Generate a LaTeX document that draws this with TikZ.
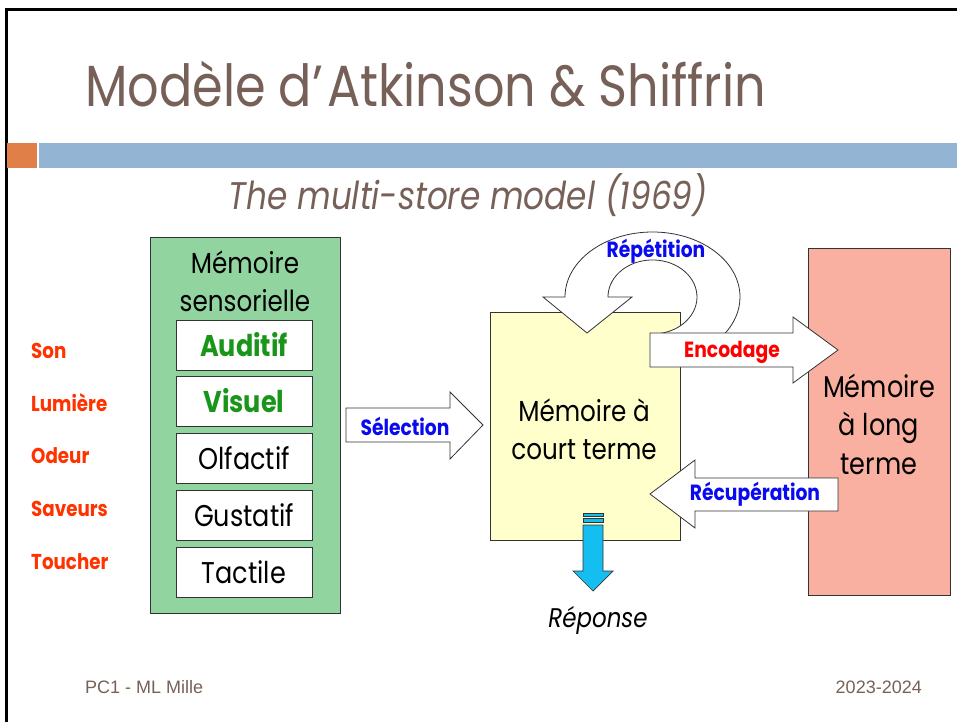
\documentclass[tikz,border=0pt]{standalone}
\usepackage{fontspec}
\setmainfont{Poppins}[FakeStretch=0.85]
\newfontfamily\arialf{Liberation Sans}
\definecolor{tbrown}{RGB}{118,96,88}
\definecolor{sqorange}{RGB}{224,128,72}
\definecolor{barblue}{RGB}{148,180,211}
\definecolor{sgreen}{RGB}{146,212,160}
\definecolor{tgreen}{RGB}{25,150,25}
\definecolor{lred}{RGB}{255,51,0}
\definecolor{tblue}{RGB}{10,10,240}
\definecolor{tred}{RGB}{255,0,0}
\definecolor{stmyellow}{RGB}{255,255,204}
\definecolor{ltmsalmon}{RGB}{250,176,160}
\definecolor{rcyan}{RGB}{20,190,240}
\begin{document}
\begin{tikzpicture}[x=1pt,y=-1pt,
  boxline/.style={draw=black!80,line width=0.9},
  sensbox/.style={boxline,fill=white,minimum width=136,minimum height=50,inner sep=0,
    font=\fontsize{30}{32}\selectfont},
  sensbold/.style={sensbox,font=\fontsize{30}{32}\selectfont\bfseries,text=tgreen},
  inlabel/.style={anchor=west,text=lred,font=\fontsize{21.5}{24}\selectfont\bfseries,inner sep=0},
  blockarrow/.style={draw=black!80,line width=0.8,fill=white},
  arrlabel/.style={font=\fontsize{22}{24}\selectfont\bfseries,inner sep=0},
  memtext/.style={align=center,font=\fontsize{29}{38}\selectfont,inner sep=0},
  foot/.style={text=tbrown,font=\arialf\fontsize{18}{20}\selectfont,inner sep=0}
]
\useasboundingbox (0,0) rectangle (957,722);
% slide frame
\draw[line width=3] (6,722) -- (6,10) -- (957,10);
\fill[sqorange] (7,143) rectangle (37,168);
\fill[barblue] (39,143) rectangle (957,168);
% titles
\node[anchor=base west,text=tbrown,inner sep=0,font=\fontsize{58}{64}\selectfont] (title) at (85,107) {Modèle d’\kern4pt Atkinson \& Shiffrin};
\node[anchor=base,text=tbrown,inner sep=0,font=\fontsize{38.5}{42}\selectfont\itshape] (subtitle) at (468,209) {The multi-store model (1969)};
% sensory memory
\node[boxline,fill=sgreen,minimum width=190,minimum height=376,anchor=north west,inner sep=0] (sens) at (150,237) {};
\node[memtext] (senstitle) at (245,281) {Mémoire\\sensorielle};
\node[sensbold] (aud) at (244,345) {Auditif};
\node[sensbold] (vis) at (244,401) {Visuel};
\node[sensbox] (olf) at (244,458) {Olfactif};
\node[sensbox] (gus) at (244,515) {Gustatif};
\node[sensbox] (tac) at (244,572) {Tactile};
% inputs
\node[inlabel] (son) at (31,351) {Son};
\node[inlabel] (lum) at (31,403) {Lumière};
\node[inlabel] (ode) at (31,456) {Odeur};
\node[inlabel] (sav) at (31,509) {Saveurs};
\node[inlabel] (tou) at (31,562) {Toucher};
% short term memory
\node[boxline,fill=stmyellow,minimum width=190,minimum height=228,anchor=north west,inner sep=0] (stm) at (490,312) {};
\node[memtext] (stmtext) at (584,429) {Mémoire à\\court terme};
% long term memory
\node[boxline,fill=ltmsalmon,minimum width=142,minimum height=347,anchor=north west,inner sep=0] (ltm) at (808,248) {};
\node[memtext,font=\fontsize{30}{38.5}\selectfont] (ltmtext) at (879,424) {Mémoire\\à long\\terme};
% repetition circular arrow
\draw[blockarrow] (543,297) -- (565,297)
  arc[start angle=180,end angle=395,x radius=87.5,y radius=65]
  -- (660.2,333.4)
  arc[start angle=440,end angle=180,x radius=44.5,y radius=37]
  -- (632,297) -- (587,333) -- cycle;
\node[arrlabel,text=tblue] (rep) at (656,251) {Répétition};
% selection
\draw[blockarrow] (346,408) -- (450,408) -- (450,392) -- (483,425) -- (450,459) -- (450,442) -- (346,442) -- cycle;
\node[arrlabel,text=tblue] (sel) at (405,426) {Sélection};
% encodage
\draw[blockarrow] (650,333) -- (793,333) -- (793,317) -- (838,350) -- (793,383) -- (793,367) -- (650,367) -- cycle;
\node[arrlabel,text=tred] (enc) at (732,352) {Encodage};
% recuperation
\draw[blockarrow] (838,478) -- (695,478) -- (695,460) -- (650,494) -- (695,528) -- (695,511) -- (838,511) -- cycle;
\node[arrlabel,text=tblue] (rec) at (755,494) {Récupération};
% reponse
\draw[draw=black!80,line width=0.7,fill=rcyan] (583,513) rectangle (603,516);
\draw[draw=black!80,line width=0.7,fill=rcyan] (583,518) rectangle (603,522);
\draw[draw=black!80,line width=0.7,fill=rcyan] (583,525) -- (603,525) -- (603,571) -- (613,571) -- (593,591) -- (573,571) -- (583,571) -- cycle;
\node[inner sep=0,font=\fontsize{27}{30}\selectfont\itshape] (repo) at (598,620) {Réponse};
% footer
\node[foot,anchor=base west] (f1) at (85,693) {PC1 - ML Mille};
\node[foot,anchor=base east] (f2) at (922,693) {2023-2024};
\end{tikzpicture}
\end{document}
